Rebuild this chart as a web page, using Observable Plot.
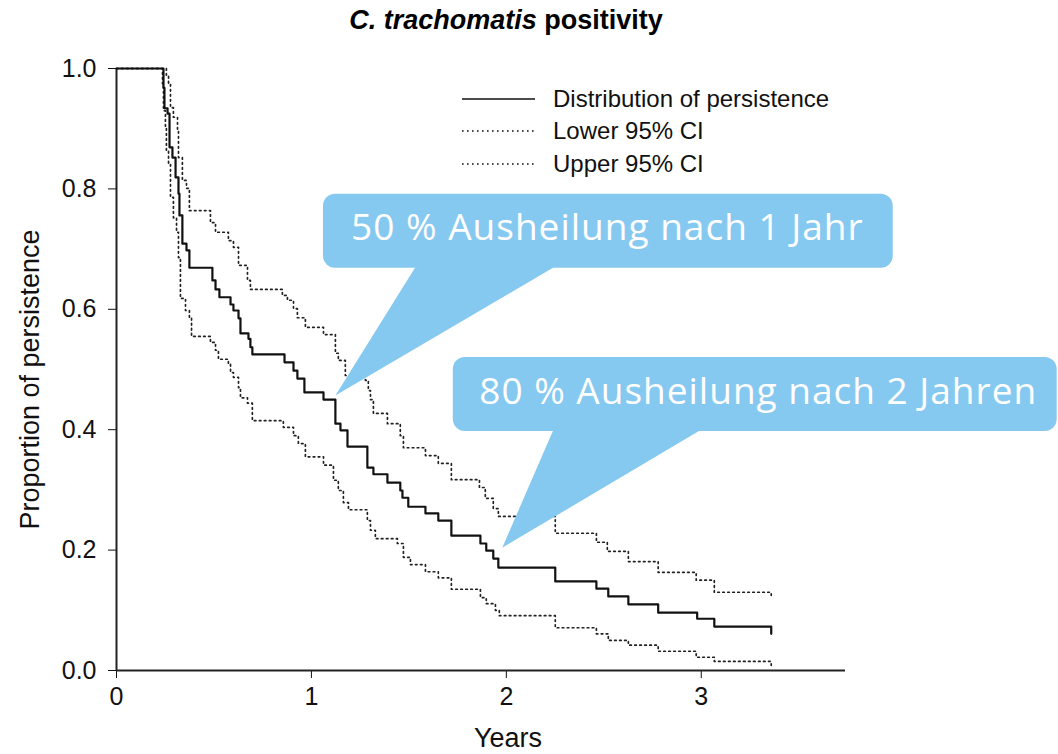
<!DOCTYPE html>
<html>
<head>
<meta charset="utf-8">
<script src="https://cdn.jsdelivr.net/npm/d3@7"></script>
<script src="https://cdn.jsdelivr.net/npm/@observablehq/plot@0.6"></script>
<style>
  html, body { margin: 0; padding: 0; background: white; }
  #wrap { position: relative; width: 1058px; height: 754px; overflow: hidden; }
  #title { position: absolute; top: 5px; left: 0; width: 1012px; text-align: center;
           font-family: "Liberation Sans", Arial, sans-serif; font-weight: bold; font-size: 27px; line-height: 30px; color: #000; }
  #chart { position: absolute; left: 0; top: 0; }
  .lg { position: absolute; left: 462px; height: 28px; display: flex; align-items: center;
        font-family: "Liberation Sans", Arial, sans-serif; font-size: 24px; color: #111; }
  .lg svg { margin-right: 18px; }
  .callout-text text { letter-spacing: 1px; }
</style>
</head>
<body>
<div id="wrap">
  <div id="chart"></div>
  <div id="title"><i>C. trachomatis</i> positivity</div>
  <div id="legend"></div>
</div>
<script>
// Kaplan–Meier style step curves (time in years, proportion of persistence)
const mainTimes  = [0, 0.241, 0.246, 0.262, 0.272, 0.287, 0.303, 0.318, 0.323, 0.338, 0.359, 0.374, 0.492, 0.508, 0.528, 0.585, 0.600, 0.626, 0.636, 0.677, 0.687, 0.697, 0.862, 0.908, 0.928, 0.964, 1.062, 1.123, 1.149, 1.185, 1.287, 1.318, 1.390, 1.456, 1.467, 1.497, 1.585, 1.651, 1.718, 1.867, 1.897, 1.933, 1.959, 2.251, 2.462, 2.523, 2.626, 2.779, 2.979, 3.067, 3.359];
const mainValues = [1, 0.968, 0.934, 0.925, 0.869, 0.852, 0.819, 0.792, 0.756, 0.709, 0.698, 0.669, 0.648, 0.633, 0.620, 0.608, 0.598, 0.585, 0.560, 0.551, 0.537, 0.525, 0.512, 0.498, 0.485, 0.462, 0.450, 0.410, 0.399, 0.372, 0.337, 0.326, 0.312, 0.299, 0.287, 0.272, 0.261, 0.249, 0.224, 0.211, 0.199, 0.186, 0.171, 0.148, 0.136, 0.123, 0.110, 0.096, 0.086, 0.073, 0.061];

const upperTimes  = [0, 0.256, 0.267, 0.277, 0.292, 0.313, 0.318, 0.338, 0.359, 0.374, 0.482, 0.508, 0.574, 0.600, 0.626, 0.672, 0.687, 0.851, 0.877, 0.908, 0.928, 0.969, 1.062, 1.123, 1.138, 1.174, 1.277, 1.292, 1.303, 1.318, 1.390, 1.456, 1.472, 1.585, 1.651, 1.718, 1.862, 1.892, 1.933, 1.959, 2.251, 2.462, 2.518, 2.626, 2.779, 2.974, 3.067, 3.359];
const upperValues = [1, 0.988, 0.975, 0.935, 0.919, 0.897, 0.852, 0.814, 0.801, 0.764, 0.744, 0.728, 0.714, 0.703, 0.673, 0.648, 0.633, 0.623, 0.615, 0.601, 0.586, 0.570, 0.558, 0.527, 0.515, 0.490, 0.482, 0.465, 0.450, 0.427, 0.410, 0.390, 0.370, 0.357, 0.344, 0.317, 0.304, 0.286, 0.269, 0.256, 0.228, 0.213, 0.198, 0.181, 0.163, 0.150, 0.130, 0.120];

const lowerTimes  = [0, 0.236, 0.241, 0.251, 0.256, 0.267, 0.277, 0.292, 0.308, 0.318, 0.328, 0.354, 0.374, 0.385, 0.482, 0.508, 0.523, 0.574, 0.585, 0.600, 0.626, 0.636, 0.672, 0.697, 0.856, 0.908, 0.933, 0.969, 1.062, 1.113, 1.138, 1.164, 1.190, 1.287, 1.303, 1.328, 1.441, 1.472, 1.508, 1.585, 1.651, 1.718, 1.867, 1.897, 1.944, 1.964, 2.251, 2.462, 2.523, 2.626, 2.779, 2.974, 3.067, 3.359];
const lowerValues = [1, 0.975, 0.930, 0.902, 0.864, 0.842, 0.786, 0.752, 0.728, 0.686, 0.618, 0.598, 0.586, 0.555, 0.545, 0.532, 0.517, 0.510, 0.495, 0.487, 0.470, 0.453, 0.444, 0.415, 0.404, 0.390, 0.377, 0.355, 0.341, 0.316, 0.299, 0.279, 0.267, 0.249, 0.233, 0.219, 0.211, 0.188, 0.176, 0.164, 0.154, 0.135, 0.121, 0.111, 0.100, 0.091, 0.071, 0.061, 0.050, 0.042, 0.032, 0.022, 0.015, 0.008];

const xTicks = [0, 1, 2, 3];
const yTicks = [0, 0.2, 0.4, 0.6, 0.8, 1.0];
const seriesNames = ["Distribution of persistence", "Lower 95% CI", "Upper 95% CI"];

// Callout annotations (data coordinates)
const calloutLabels = ["50 % Ausheilung nach 1 Jahr", "80 % Ausheilung nach 2 Jahren"];
const calloutX1 = [1.062, 1.728];
const calloutX2 = [3.985, 4.826];
const calloutYBottom = [0.668, 0.397];
const calloutYTop = [0.791, 0.520];
const calloutTipX = [1.123, 1.979];
const calloutTipY = [0.457, 0.204];
const calloutBaseLeft = [1.549, 2.251];
const calloutBaseRight = [2.287, 3.036];
const calloutTextX = [2.518, 3.292];
const calloutTextY = [0.734, 0.463];

const toRows = (ts, vs) => ts.map((t, i) => ({t, v: vs[i]}));
const mainRows = toRows(mainTimes, mainValues);
const upperRows = toRows(upperTimes, upperValues);
const lowerRows = toRows(lowerTimes, lowerValues);

const callouts = calloutLabels.map((label, i) => ({
  label, x1: calloutX1[i], x2: calloutX2[i], y1: calloutYBottom[i], y2: calloutYTop[i],
  tx: calloutTextX[i], ty: calloutTextY[i]
}));
const pointerPts = calloutLabels.flatMap((label, i) => [
  {id: i, t: calloutBaseLeft[i], v: calloutYBottom[i] + 0.01},
  {id: i, t: calloutTipX[i], v: calloutTipY[i]},
  {id: i, t: calloutBaseRight[i], v: calloutYBottom[i] + 0.01}
]);

const blue = "#86C9F0";
const dots = "1.6,3.4";

const chart = Plot.plot({
  width: 1058,
  height: 754,
  marginLeft: 116,
  marginRight: 213,
  marginTop: 68,
  marginBottom: 84,
  style: {fontFamily: "Liberation Sans, Arial, sans-serif", fontSize: "25px", color: "#111", background: "transparent", overflow: "visible"},
  x: {domain: [0, 3.74], ticks: xTicks, tickSize: 8, tickPadding: 9, tickFormat: d3.format("d"), label: null},
  y: {domain: [0, 1], ticks: yTicks, tickSize: 8, tickPadding: 12, tickFormat: d3.format(".1f"), label: null},
  marks: [
    Plot.ruleY([0], {stroke: "#222", strokeWidth: 2}),
    Plot.ruleX([0], {stroke: "#222", strokeWidth: 2}),
    Plot.line(lowerRows, {x: "t", y: "v", curve: "step-after", stroke: "#222", strokeWidth: 1.7, strokeDasharray: dots}),
    Plot.line(upperRows, {x: "t", y: "v", curve: "step-after", stroke: "#222", strokeWidth: 1.7, strokeDasharray: dots}),
    Plot.line(mainRows, {x: "t", y: "v", curve: "step-after", stroke: "#111", strokeWidth: 2.2}),
    Plot.line(pointerPts, {x: "t", y: "v", z: "id", fill: blue, stroke: "none"}),
    Plot.rect(callouts, {x1: "x1", x2: "x2", y1: "y1", y2: "y2", fill: blue, rx: 12}),
    Plot.text(callouts, {x: "tx", y: "ty", text: "label", fill: "white", fontFamily: "Open Sans, sans-serif", fontSize: 37, className: "callout-text"}),
    Plot.text(["Years"], {text: d => d, frameAnchor: "bottom", dx: 27, dy: 76, fontSize: 27, fill: "#111"}),
    Plot.text(["Proportion of persistence"], {text: d => d, frameAnchor: "left", textAnchor: "middle", rotate: -90, dx: -86, dy: 10, fontSize: 27, fill: "#111"})
  ]
});
document.getElementById("chart").appendChild(chart);

// Legend
const legend = document.getElementById("legend");
const legendY = [99, 131, 164];
seriesNames.forEach((name, i) => {
  const row = document.createElement("div");
  row.className = "lg";
  row.style.top = (legendY[i] - 14) + "px";
  const dash = i === 0 ? "" : `stroke-dasharray="${dots}"`;
  const sw = i === 0 ? 1.6 : 1.4;
  row.innerHTML = `<svg width="73" height="10"><line x1="0" x2="73" y1="5" y2="5" stroke="#111" stroke-width="${sw}" ${dash}/></svg><span>${name}</span>`;
  legend.appendChild(row);
});
</script>
</body>
</html>
